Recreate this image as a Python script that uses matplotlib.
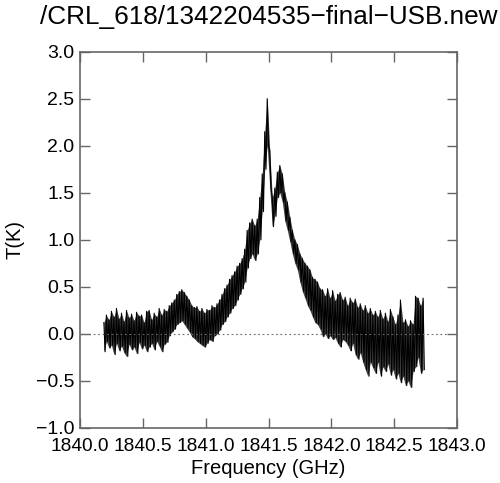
import matplotlib
matplotlib.use("Agg")
import matplotlib.pyplot as plt
import numpy as np

plt.rcParams['font.family'] = ['Liberation Sans', 'DejaVu Sans']

title = "/CRL_618/1342204535\u2212final\u2212USB.new"
xlabel = "Frequency (GHz)"
ylabel = "T(K)"
xticks = [1840.0, 1840.5, 1841.0, 1841.5, 1842.0, 1842.5, 1843.0]
yticks = [-1.0, -0.5, 0.0, 0.5, 1.0, 1.5, 2.0, 2.5, 3.0]

freq = [1840.19, 1840.21, 1840.23, 1840.25, 1840.27, 1840.29, 1840.31, 1840.33,
        1840.35, 1840.37, 1840.39, 1840.41, 1840.43, 1840.45, 1840.47, 1840.49,
        1840.51, 1840.53, 1840.55, 1840.57, 1840.59, 1840.61, 1840.63, 1840.65,
        1840.67, 1840.69, 1840.71, 1840.73, 1840.75, 1840.77, 1840.79, 1840.81,
        1840.83, 1840.85, 1840.87, 1840.89, 1840.91, 1840.93, 1840.95, 1840.97,
        1840.99, 1841.01, 1841.03, 1841.05, 1841.07, 1841.09, 1841.11, 1841.13,
        1841.15, 1841.17, 1841.19, 1841.21, 1841.23, 1841.25, 1841.27, 1841.29,
        1841.31, 1841.33, 1841.35, 1841.37, 1841.39, 1841.41, 1841.43, 1841.45,
        1841.47, 1841.49, 1841.51, 1841.53, 1841.55, 1841.57, 1841.59, 1841.61,
        1841.63, 1841.65, 1841.67, 1841.69, 1841.71, 1841.73, 1841.75, 1841.77,
        1841.79, 1841.81, 1841.83, 1841.85, 1841.87, 1841.89, 1841.91, 1841.93,
        1841.95, 1841.97, 1841.99, 1842.01, 1842.03, 1842.05, 1842.07, 1842.09,
        1842.11, 1842.13, 1842.15, 1842.17, 1842.19, 1842.21, 1842.23, 1842.25,
        1842.27, 1842.29, 1842.31, 1842.33, 1842.35, 1842.37, 1842.39, 1842.41,
        1842.43, 1842.45, 1842.47, 1842.49, 1842.51, 1842.53, 1842.55, 1842.57,
        1842.59, 1842.61, 1842.63, 1842.65, 1842.67, 1842.69, 1842.71, 1842.73]

t_high = [0.12, 0.20, 0.15, 0.24, 0.18, 0.27, 0.16, 0.22, 0.13, 0.25, 0.17, 0.21,
          0.14, 0.23, 0.19, 0.20, 0.12, 0.24, 0.25, 0.15, 0.22, 0.18, 0.27, 0.20,
          0.26, 0.24, 0.30, 0.33, 0.36, 0.42, 0.45, 0.47, 0.44, 0.40, 0.36, 0.30,
          0.28, 0.29, 0.24, 0.27, 0.22, 0.26, 0.25, 0.30, 0.28, 0.32, 0.36, 0.42,
          0.48, 0.52, 0.58, 0.62, 0.66, 0.72, 0.75, 0.80, 0.90, 1.10, 1.18, 1.22,
          1.15, 1.22, 1.45, 1.70, 2.15, 2.50, 1.95, 1.45, 1.55, 1.72, 1.79, 1.70,
          1.50, 1.40, 1.24, 1.10, 1.00, 0.95, 0.85, 0.80, 0.75, 0.72, 0.68, 0.60,
          0.58, 0.55, 0.48, 0.47, 0.40, 0.48, 0.38, 0.46, 0.35, 0.42, 0.44, 0.36,
          0.39, 0.30, 0.38, 0.33, 0.37, 0.28, 0.32, 0.25, 0.30, 0.22, 0.27, 0.20,
          0.24, 0.18, 0.25, 0.16, 0.22, 0.13, 0.26, 0.18, 0.10, 0.20, 0.36, 0.12,
          0.15, 0.08, 0.14, 0.10, 0.40, 0.38, 0.30, 0.38]

t_low = [-0.19, -0.08, -0.15, -0.12, -0.22, -0.10, -0.18, -0.13, -0.20, -0.24,
         -0.11, -0.17, -0.14, -0.21, -0.09, -0.16, -0.12, -0.19, -0.14, -0.10,
         -0.17, -0.08, -0.13, -0.19, -0.11, -0.09, -0.02, 0.02, 0.05, 0.10,
         0.12, 0.14, 0.10, 0.06, 0.02, -0.03, -0.05, -0.08, -0.10, -0.12,
         -0.14, -0.10, -0.06, -0.08, -0.02, 0.00, 0.04, 0.10, 0.13, 0.18,
         0.22, 0.27, 0.30, 0.36, 0.42, 0.48, 0.55, 0.70, 0.80, 0.85,
         0.78, 0.85, 1.00, 1.30, 1.75, 2.00, 1.55, 1.14, 1.25, 1.45,
         1.50, 1.40, 1.20, 1.10, 0.98, 0.85, 0.75, 0.68, 0.55, 0.45,
         0.38, 0.30, 0.25, 0.18, 0.12, 0.10, 0.05, -0.03, 0.00, -0.05,
         -0.02, -0.06, -0.04, -0.10, -0.14, -0.06, -0.08, -0.12, -0.18, -0.10,
         -0.22, -0.27, -0.20, -0.30, -0.38, -0.45, -0.30, -0.36, -0.42, -0.30,
         -0.45, -0.35, -0.40, -0.32, -0.44, -0.38, -0.48, -0.42, -0.52, -0.45,
         -0.55, -0.50, -0.57, -0.40, -0.35, -0.25, -0.42, -0.38]

# interleave high/low readings into a single noisy trace
xs, ys = [], []
for f, h, l in zip(freq, t_high, t_low):
    xs += [f, f + 0.01]
    ys += [h, l]

fig = plt.figure(figsize=(5.0, 4.83), dpi=100)
ax = fig.add_axes([0.16, 0.114, 0.754, 0.779])
ax.fill_between(freq, t_low, t_high, color='#111111', alpha=0.8, linewidth=0)
ax.plot(xs, ys, color='black', linewidth=0.8)
ax.axhline(0.0, color='#666666', linestyle=(0, (1.5, 2.5)), linewidth=0.8)

ax.set_xlim(1840.0, 1843.0)
ax.set_ylim(-1.0, 3.0)
ax.set_xticks(xticks)
ax.set_yticks(yticks)
ax.set_xticklabels([f"{v:.1f}" for v in xticks])
ax.set_yticklabels([f"{v:.1f}".replace('-', '\u2212') for v in yticks])
ax.tick_params(direction='in', length=7, width=1, color='#666666',
               top=True, right=True, labelsize=14, pad=4)
ax.tick_params(axis='x', labelsize=13.8, pad=7)
for s in ax.spines.values():
    s.set_color('#666666')
    s.set_linewidth(1.2)
ax.set_xlabel(xlabel, fontsize=14.5, labelpad=3)
ax.set_ylabel(ylabel, fontsize=14.5, labelpad=8)
ax.set_title(title, fontsize=18.8, pad=20)

fig.savefig("out.png", dpi=100)
